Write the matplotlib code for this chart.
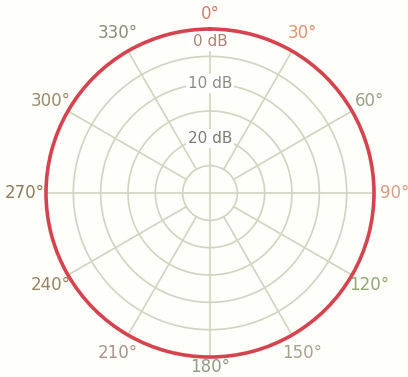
import numpy as np
import matplotlib
matplotlib.use("Agg")
import matplotlib.pyplot as plt

# omnidirectional response, level below on-axis in dB
angles_deg = [0, 30, 60, 90, 120, 150, 180, 210, 240, 270, 300, 330, 360]
level_db = [0, 0, 0, 0, 0, 0, 0, 0, 0, 0, 0, 0, 0]

ring_db = [5, 10, 15, 20, 25]
ring_labels = {0: "0 dB", 10: "10 dB", 20: "20 dB"}
spoke_deg = [0, 30, 60, 90, 120, 150, 180, 210, 240, 270, 300, 330]
angle_labels = ["0°", "30°", "60°", "90°", "120°", "150°",
                "180°", "210°", "240°", "270°", "300°", "330°"]
angle_colors = ["#d27c6c", "#e0946c", "#9aa088", "#d99c84", "#8fa870", "#a8a08e",
                "#8f9a88", "#a89290", "#9a8262", "#8c7c5c", "#9a8a6a", "#8a8c7a"]

FLOOR = 30.0          # dB at the centre
GRID = "#d2d3c1"

def to_r(db):
    return FLOOR - np.asarray(db, dtype=float)

fig = plt.figure(figsize=(4.08, 3.77), dpi=100)
fig.patch.set_facecolor("#fefefb")
ax = fig.add_axes([0.1127, 0.053, 0.804, 0.870], projection="polar")
ax.set_facecolor("none")
ax.set_theta_zero_location("N")
ax.set_theta_direction(-1)
ax.set_ylim(0, FLOOR)
ax.grid(False)
ax.set_xticks([])
ax.set_yticks([])
ax.spines["polar"].set_visible(False)

full = np.linspace(0, 2 * np.pi, 361)
for db in ring_db:
    ax.plot(full, np.full_like(full, to_r(db)), color=GRID, lw=1.2, zorder=1)

# spokes: cardinal ones run to the centre, the rest stop at the inner ring
for a in spoke_deg:
    r0 = 0 if a % 90 == 0 else to_r(25)
    ax.plot([np.radians(a)] * 2, [r0, FLOOR], color=GRID, lw=1.2, zorder=1)

resp, = ax.plot(np.radians(angles_deg), to_r(level_db), color="#d4434e", lw=2.6,
                zorder=4, clip_on=False)
# let the polar transform curve each segment instead of drawing chords
resp.get_path()._interpolation_steps = 60

for db, txt in ring_labels.items():
    r = to_r(db) - (2.2 if db == 0 else 0)
    col = "#b0806e" if db == 0 else ("#8c8c80" if db == 10 else "#7c7c6c")
    ax.text(0, r, txt, ha="center", va="center", fontsize=11, color=col,
            zorder=3, bbox=dict(boxstyle="square,pad=0.15", fc="white", ec="none"))

for a, txt, col in zip(spoke_deg, angle_labels, angle_colors):
    r = 33.7
    if a == 0:
        r = 32.7
    elif a == 180:
        r = 31.9
    elif a in (90, 270):
        r = 33.8
    ax.text(np.radians(a), r, txt, ha="center", va="center", fontsize=12,
            color=col, clip_on=False)

fig.savefig("out.png", dpi=100, facecolor=fig.get_facecolor())
